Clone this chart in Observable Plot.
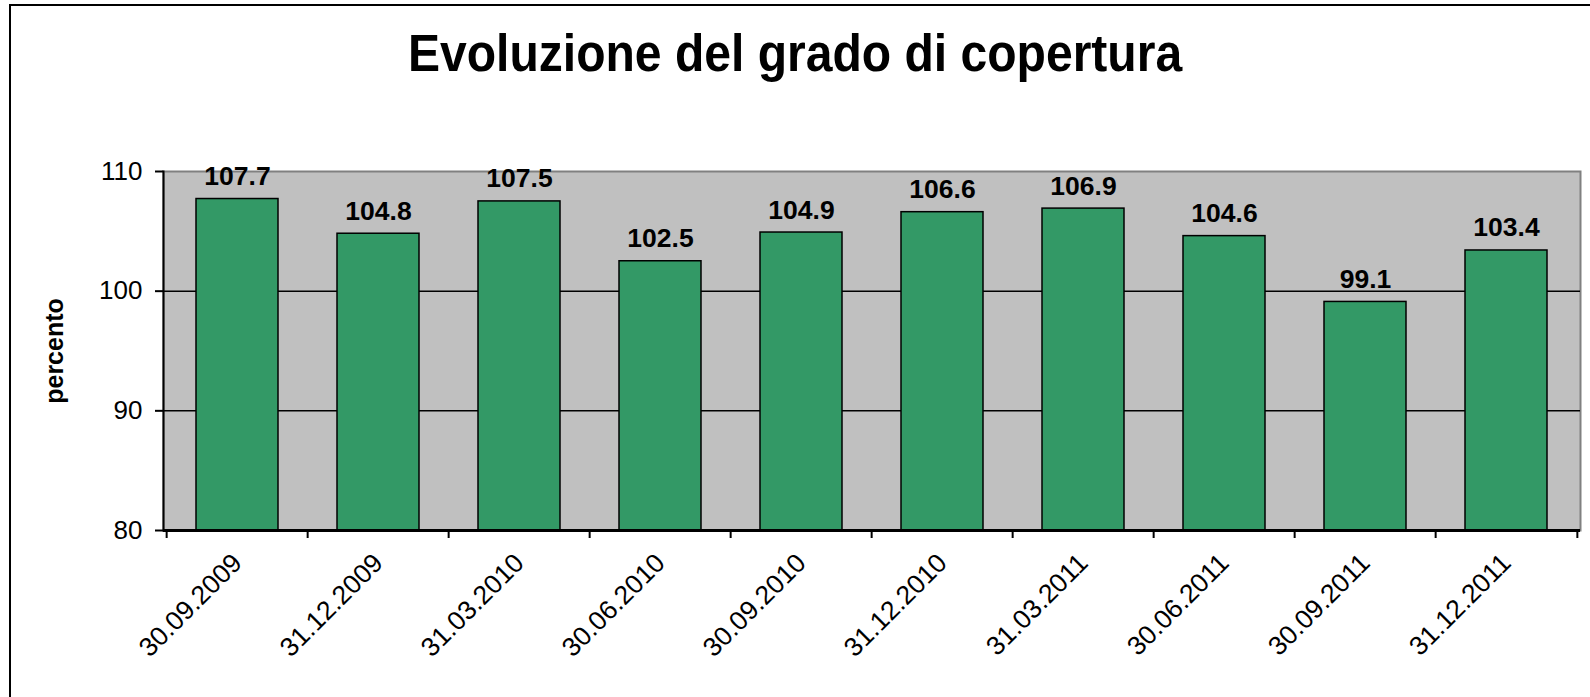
<!DOCTYPE html>
<html>
<head>
<meta charset="utf-8">
<script src="https://cdn.jsdelivr.net/npm/d3@7"></script>
<script src="https://cdn.jsdelivr.net/npm/@observablehq/plot@0.6"></script>
<style>
  html, body { margin: 0; padding: 0; background: #fff; overflow: hidden; width: 1590px; height: 697px; }
  body { position: relative; font-family: "Liberation Sans", Arial, sans-serif; }
  #frame { position: absolute; left: 9px; top: 4px; width: 1700px; height: 900px; border: 2px solid #000; }
  #title { position: absolute; left: 0; width: 1590px; top: 28px; text-align: center; font-size: 51px; line-height: 51px; font-weight: bold; color: #000; white-space: nowrap; transform: scaleX(0.942); transform-origin: 796px 0; }
  #chart { position: absolute; left: 0; top: 120px; }
</style>
</head>
<body>
<div id="frame"></div>
<div id="title">Evoluzione del grado di copertura</div>
<div id="chart"></div>
<script>
const dates = ["30.09.2009","31.12.2009","31.03.2010","30.06.2010","30.09.2010","31.12.2010","31.03.2011","30.06.2011","30.09.2011","31.12.2011"];
const values = [107.7,104.8,107.5,102.5,104.9,106.6,106.9,104.6,99.1,103.4];
const yTicks = [80,90,100,110];
const gridValues = [90,100];
const yLabel = "percento";

const data = dates.map((d,i) => ({date: d, value: values[i]}));

const W = 1590, H = 577, mL = 163, mR = 10, mT = 51, mB = 167;
const step = (W - mL - mR) / dates.length;
const font = "Liberation Sans, Arial, sans-serif";

const plot = Plot.plot({
  width: W, height: H,
  marginLeft: mL, marginRight: mR, marginTop: mT, marginBottom: mB,
  style: {fontFamily: font, background: "transparent", color: "#000", overflow: "visible"},
  x: {domain: dates, paddingInner: 0.42, paddingOuter: 0.21, label: null},
  y: {domain: [80,110], label: null},
  marks: [
    Plot.frame({fill: "#c0c0c0", stroke: "#808080", strokeWidth: 2}),
    Plot.ruleY(gridValues, {stroke: "#000", strokeWidth: 1.5}),
    Plot.barY(data, {x: "date", y1: 80, y2: "value", fill: "#339966", stroke: "#000", strokeWidth: 1.5}),
    Plot.text(data, {x: "date", y: "value", text: d => d.value.toFixed(1), lineAnchor: "bottom", dy: -14, fontSize: 26.5, fontWeight: "bold", fill: "#000"}),
    Plot.ruleY([80], {stroke: "#000", strokeWidth: 3}),
    Plot.frame({anchor: "left", stroke: "#000", strokeWidth: 2}),
    Plot.ruleX(dates, {x: d => d, y1: 80, y2: 80, insetBottom: -8, dx: -step/2, stroke: "#000", strokeWidth: 2}),
    Plot.ruleX(dates.slice(-1), {x: d => d, y1: 80, y2: 80, insetBottom: -8, dx: step/2, stroke: "#000", strokeWidth: 2}),
    Plot.axisY({ticks: yTicks, tickSize: 8, tickPadding: 13, fontSize: 26, stroke: "#000", strokeWidth: 2, label: null}),
    Plot.axisX({tickSize: 0, tickRotate: -45, tickPadding: 28, dx: 0, fontSize: 26.5, label: null}),
    Plot.text([yLabel], {frameAnchor: "left", textAnchor: "middle", lineAnchor: "middle", rotate: -90, dx: -108.5, fontSize: 25, fontWeight: "bold", fill: "#000"})
  ]
});
document.getElementById("chart").appendChild(plot);
</script>
</body>
</html>
